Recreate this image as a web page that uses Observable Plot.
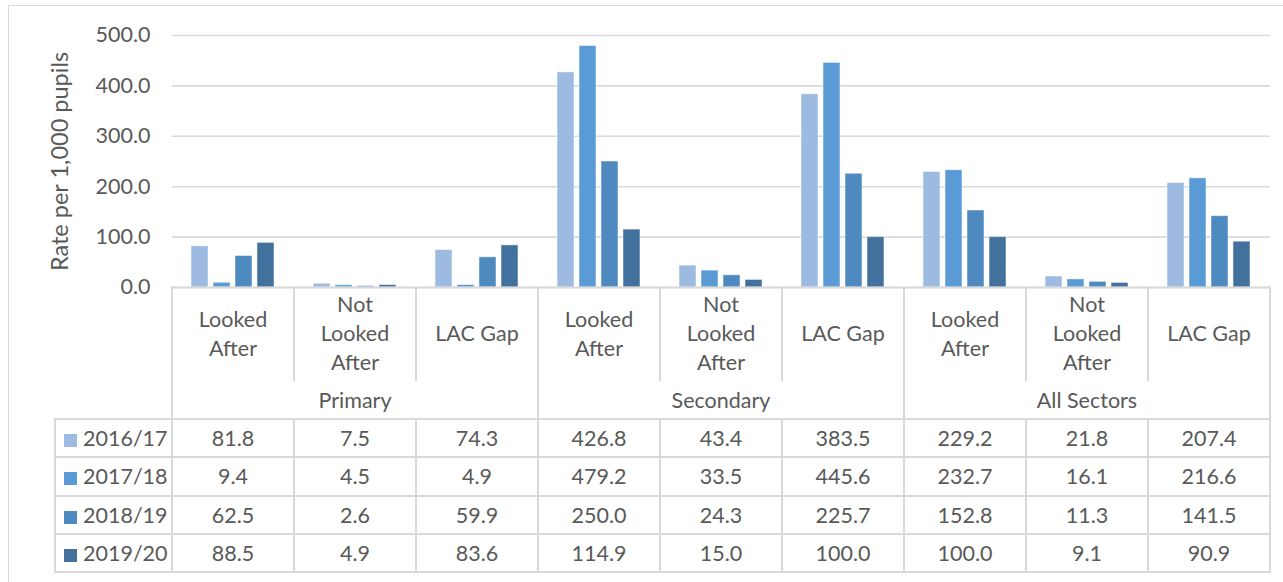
<!DOCTYPE html>
<html>
<head>
<meta charset="utf-8">
<script src="https://cdn.jsdelivr.net/npm/d3@7"></script>
<script src="https://cdn.jsdelivr.net/npm/@observablehq/plot@0.6"></script>
<style>
  html, body { margin: 0; padding: 0; background: #fff; overflow: hidden; width: 1283px; height: 582px; }
  #frame { position: absolute; left: 8px; top: 5px; width: 1400px; height: 700px; border: 1.6px solid #d9d9d9; box-sizing: border-box; }
  #chart { position: absolute; left: 0; top: 0; }
  #chart g[aria-label="y-axis label"] text { font-size: 23.5px; }
  #table { position: absolute; left: 54px; top: 286px; border-collapse: collapse; table-layout: fixed;
           font-family: Lato, sans-serif; font-size: 21.5px; color: #595959; }
  #table td { padding: 0; text-align: center; vertical-align: middle; }
  .cat td { height: 95px; line-height: 29px; white-space: pre-line; }
  .grp td { height: 37px; }
  .row td { height: 36.3px; border: 2px solid #d9d9d9; }
  .sw { display: inline-block; width: 13px; height: 13px; margin-right: 6px; vertical-align: -1px; }
  .leg { text-align: left !important; padding-left: 8px !important; white-space: nowrap; }
</style>
</head>
<body>
<div id="frame"></div>
<div id="chart"></div>
<table id="table"></table>
<script>
const groups = ["Primary", "Secondary", "All Sectors"];
const categories = ["Looked After", "Not Looked After", "LAC Gap"];
const categoryLines = ["Looked\nAfter", "Not\nLooked\nAfter", "LAC Gap"];
const years = ["2016/17", "2017/18", "2018/19", "2019/20"];
const values2016 = [81.8, 7.5, 74.3, 426.8, 43.4, 383.5, 229.2, 21.8, 207.4];
const values2017 = [9.4, 4.5, 4.9, 479.2, 33.5, 445.6, 232.7, 16.1, 216.6];
const values2018 = [62.5, 2.6, 59.9, 250.0, 24.3, 225.7, 152.8, 11.3, 141.5];
const values2019 = [88.5, 4.9, 83.6, 114.9, 15.0, 100.0, 100.0, 9.1, 90.9];
const yTicks = [0, 100, 200, 300, 400, 500];
const colors = ["#9dbbe0", "#5b9bd5", "#4e8abf", "#41719c"];

const series = [values2016, values2017, values2018, values2019];
const keys = groups.flatMap(g => categories.map(c => g + "|" + c));
const rows = years.flatMap((y, i) => series[i].map((v, j) => ({year: y, key: keys[j], value: v})));

const plot = Plot.plot({
  width: 1283,
  height: 310,
  marginTop: 35,
  marginBottom: 23,
  marginLeft: 171,
  marginRight: 12,
  style: {fontFamily: "Lato, sans-serif", fontSize: "21.5px", color: "#595959", background: "transparent"},
  fx: {domain: keys, padding: 0, axis: null, label: null},
  x: {domain: years, paddingInner: 0.215, paddingOuter: 0.85, axis: null, label: null},
  y: {domain: [0, 500]},
  color: {domain: years, range: colors},
  marks: [
    Plot.gridY(yTicks, {stroke: "#d9d9d9", strokeOpacity: 1, strokeWidth: 1.6}),
    Plot.barY(rows, {fx: "key", x: "year", y: "value", fill: "year", stroke: "#ffffff", strokeWidth: 1, strokeOpacity: 0.5}),
    Plot.ruleY([0], {stroke: "#d9d9d9", strokeWidth: 1.8}),
    Plot.axisY(yTicks, {tickFormat: d => d.toFixed(1), tickSize: 0, tickPadding: 22,
      label: "Rate per 1,000 pupils", labelAnchor: "center", labelArrow: "none", labelOffset: 121, fontSize: 21.5})
  ]
});
document.getElementById("chart").appendChild(plot);

const fx = plot.scale("fx");
const colW = fx.bandwidth;
const table = d3.select("#table");
const cg = table.append("colgroup");
cg.append("col").style("width", (171 - 54) + "px");
keys.forEach(() => cg.append("col").style("width", colW + "px"));

const catRow = table.append("tr").attr("class", "cat");
catRow.append("td");
keys.forEach((k, j) => {
  catRow.append("td")
    .style("border-left", "2px solid #d9d9d9")
    .style("border-right", "2px solid #d9d9d9")
    .text(categoryLines[j % categories.length]);
});
const grpRow = table.append("tr").attr("class", "grp");
grpRow.append("td");
groups.forEach(g => {
  grpRow.append("td").attr("colspan", categories.length)
    .style("border-left", "2px solid #d9d9d9")
    .style("border-right", "2px solid #d9d9d9")
    .text(g);
});
years.forEach((y, i) => {
  const tr = table.append("tr").attr("class", "row");
  const lead = tr.append("td").attr("class", "leg");
  lead.append("span").attr("class", "sw").style("background", colors[i]);
  lead.append("span").text(y);
  series[i].forEach(v => tr.append("td").text(v.toFixed(1)));
});
</script>
</body>
</html>
